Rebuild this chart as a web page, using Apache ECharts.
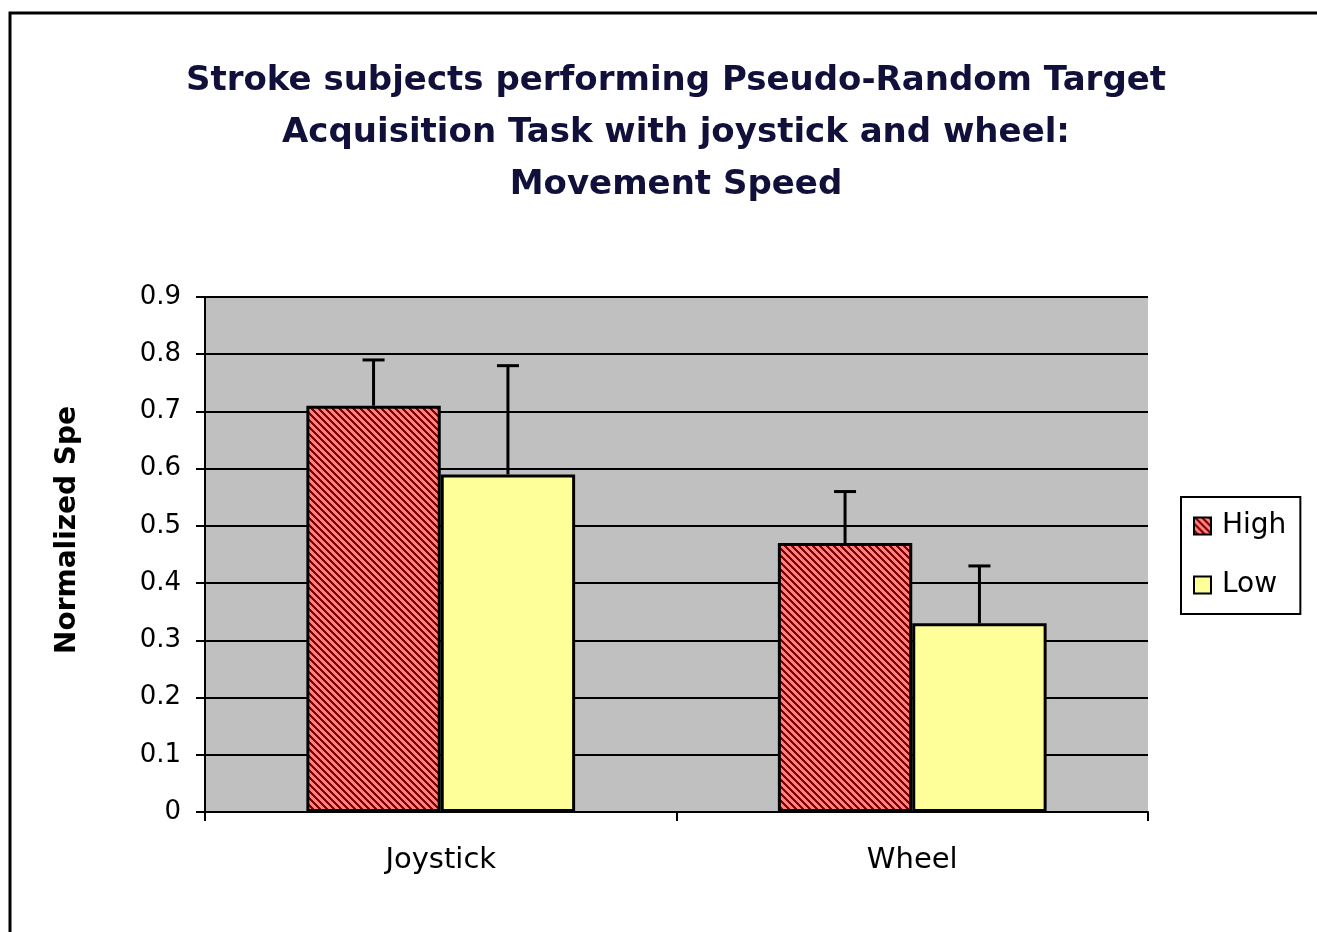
<!DOCTYPE html>
<html>
<head>
<meta charset="utf-8">
<script src="https://cdn.jsdelivr.net/npm/echarts@6/dist/echarts.min.js"></script>
<style>
  html, body { margin: 0; padding: 0; background: #fff; }
  #chart { width: 1317px; height: 932px; }
</style>
</head>
<body>
<div id="chart"></div>
<script>
  // data
  var categories = ['Joystick', 'Wheel'];
  var highValues = [0.71, 0.47];
  var lowValues = [0.59, 0.33];
  var highErrTop = [0.79, 0.56];
  var lowErrTop = [0.78, 0.43];
  var yTicks = [0, 0.1, 0.2, 0.3, 0.4, 0.5, 0.6, 0.7, 0.8, 0.9];

  var CAT_GAP = 0.43;

  // hatch pattern for the "High" bars
  function makeHatch() {
    var n = 7;
    var c = document.createElement('canvas');
    c.width = n; c.height = n;
    var ctx = c.getContext('2d');
    for (var y = 0; y < n; y++) {
      for (var x = 0; x < n; x++) {
        ctx.fillStyle = (((x - y) % n + n) % n) < 3 ? '#800000' : '#FF8080';
        ctx.fillRect(x, y, 1, 1);
      }
    }
    return c;
  }
  var hatch = { image: makeHatch(), repeat: 'repeat' };

  function errorSeries(name, tops, vals, side) {
    return {
      name: name + ' err',
      type: 'custom',
      z: 5,
      data: categories.map(function (c, i) { return [i, vals[i], tops[i]]; }),
      renderItem: function (params, api) {
        var band = api.size([1, 0])[0];
        var bw = band * (1 - CAT_GAP) / 2;
        var base = api.coord([api.value(0), api.value(1)]);
        var top = api.coord([api.value(0), api.value(2)]);
        var x = base[0] + side * bw / 2;
        var st = { stroke: '#000', lineWidth: 3 };
        return {
          type: 'group',
          children: [
            { type: 'line', shape: { x1: x, y1: base[1], x2: x, y2: top[1] }, style: st },
            { type: 'line', shape: { x1: x - 11, y1: top[1], x2: x + 11, y2: top[1] }, style: st }
          ]
        };
      }
    };
  }

  var chart = echarts.init(document.getElementById('chart'));
  chart.setOption({
    animation: false,
    backgroundColor: '#fff',
    textStyle: { fontFamily: 'DejaVu Sans' },
    title: {
      text: 'Stroke subjects performing Pseudo-Random Target\nAcquisition Task with joystick and wheel:\nMovement Speed',
      left: 671,
      textAlign: 'center',
      top: 50,
      textStyle: { fontFamily: 'DejaVu Sans', fontWeight: 'bold', fontSize: 34, lineHeight: 52, color: '#10103a' }
    },
    graphic: [{
      type: 'rect',
      shape: { x: 10, y: 13, width: 1320, height: 940 },
      style: { fill: 'none', stroke: '#000', lineWidth: 3 },
      silent: true
    }, {
      type: 'text',
      x: 68,
      y: 530,
      rotation: Math.PI / 2,
      style: {
        text: 'Normalized Spe',
        fill: '#000',
        font: 'bold 28px "DejaVu Sans"',
        align: 'center',
        verticalAlign: 'middle'
      },
      silent: true
    }],
    legend: {
      orient: 'vertical',
      left: 1181,
      top: 497,
      width: 120,
      data: ['High', 'Low'],
      icon: 'rect',
      padding: [15, 14, 15, 12],
      itemGap: 31,
      itemWidth: 17,
      itemHeight: 17,
      backgroundColor: '#fff',
      borderColor: '#000',
      borderWidth: 2,
      borderRadius: 0,
      textStyle: { fontSize: 28, color: '#000', fontFamily: 'DejaVu Sans', padding: [0, 0, 0, 6] }
    },
    grid: { left: 205, right: 169, top: 297, bottom: 120, show: true, backgroundColor: '#C0C0C0', borderWidth: 0 },
    xAxis: {
      type: 'category',
      data: categories,
      axisLine: { lineStyle: { color: '#000', width: 2 } },
      axisTick: { show: true, length: 9, lineStyle: { color: '#000', width: 2 } },
      axisLabel: { fontSize: 29, color: '#000', margin: 34 }
    },
    yAxis: {
      type: 'value',
      min: 0,
      max: 0.9,
      interval: 0.1,
      axisLine: { show: true, lineStyle: { color: '#000', width: 2 } },
      axisTick: { show: true, length: 9, lineStyle: { color: '#000', width: 2 } },
      splitLine: { show: true, lineStyle: { color: '#000', width: 2 } },
      axisLabel: {
        fontSize: 26, color: '#000', margin: 24,
        formatter: function (v) {
          var t = yTicks.filter(function (k) { return Math.abs(k - v) < 1e-6; });
          return t.length ? String(t[0]) : '';
        }
      }
    },
    series: [
      {
        name: 'High', type: 'bar', data: highValues,
        barGap: '0%', barCategoryGap: (CAT_GAP * 100) + '%',
        itemStyle: { color: hatch, borderColor: '#000', borderWidth: 3 }
      },
      {
        name: 'Low', type: 'bar', data: lowValues,
        barGap: '0%', barCategoryGap: (CAT_GAP * 100) + '%',
        itemStyle: { color: '#FFFF99', borderColor: '#000', borderWidth: 3 }
      },
      errorSeries('High', highErrTop, highValues, -1),
      errorSeries('Low', lowErrTop, lowValues, 1)
    ]
  });
</script>
</body>
</html>
